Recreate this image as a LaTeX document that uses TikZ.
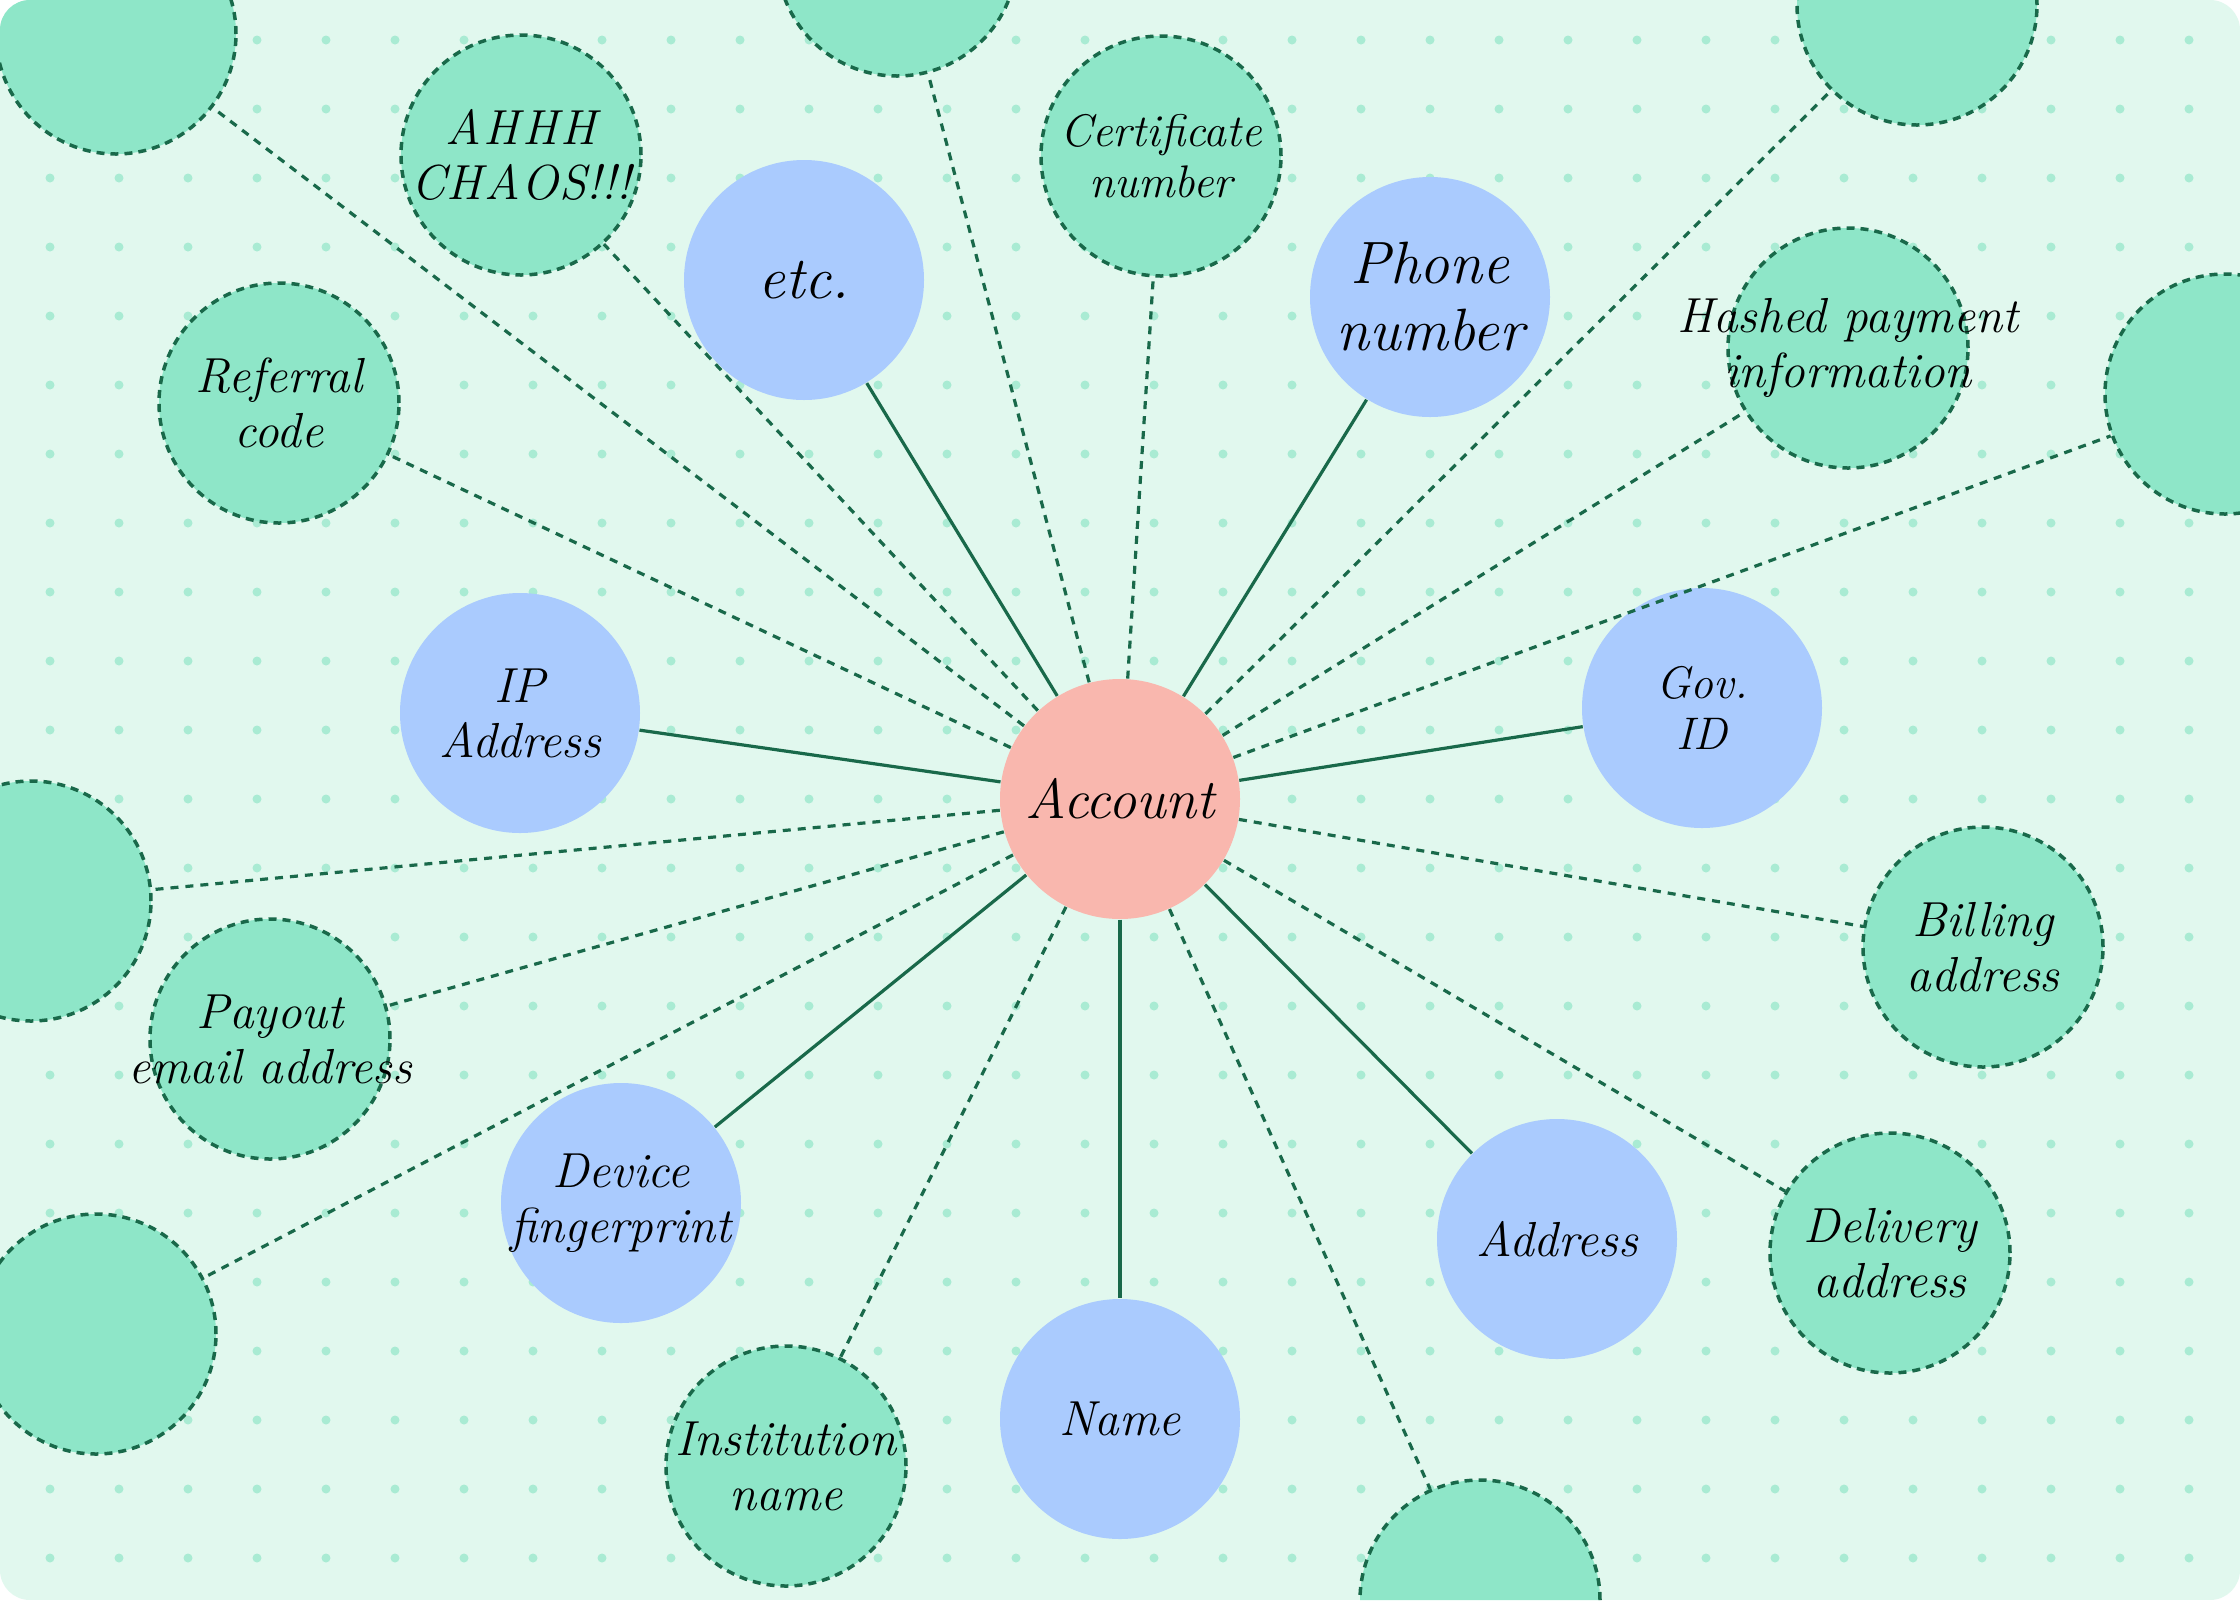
\documentclass[tikz,border=0pt]{standalone}
\usepackage{fontspec}
\definecolor{bgcol}{HTML}{E1F8EE}
\definecolor{dotcol}{HTML}{A9EBD3}
\definecolor{linecol}{HTML}{19694A}
\definecolor{attrcol}{HTML}{8EE6C8}
\definecolor{corecol}{HTML}{AACBFE}
\definecolor{acctcol}{HTML}{F9B7AE}
\tikzset{
  hand/.style={font={\itshape\pgfmathsetmacro\handskip{#1*1.12}\fontsize{#1}{\handskip}\selectfont}},
  every label/.style={align=center, text=black},
  account/.style={circle, fill=acctcol, minimum size=24mm, inner sep=0pt},
  core/.style={circle, fill=corecol, minimum size=24mm, inner sep=0pt},
  attr/.style={circle, fill=attrcol, draw=linecol, line width=0.35mm,
    dash pattern=on 0.8mm off 0.6mm, minimum size=24mm, inner sep=0pt},
  strong/.style={draw=linecol, line width=0.32mm},
  weak/.style={draw=linecol, line width=0.32mm, dash pattern=on 0.8mm off 0.7mm},
}
\begin{document}
\begin{tikzpicture}[x=0.1mm,y=-0.1mm]
\useasboundingbox (0,0) rectangle (2240,1600);
\fill[white] (0,0) rectangle (2240,1600);
\begin{scope}
\clip[rounded corners=3mm] (0,0) rectangle (2240,1600);
\fill[bgcol] (0,0) rectangle (2240,1600);
% dot grid
\foreach \i in {0,...,31}
  \foreach \j in {0,...,22}
    \fill[dotcol] (50+69*\i,40+69*\j) circle (0.45mm);
% centre
\node[account, label={[hand=16]center:Account}] (acc) at (1120,799) {};
% solid ones
\node[core, label={[hand=17]center:etc.}] (etc) at (804,280) {};
\node[core, label={[hand=17]center:Phone\\number}] (phone) at (1430,297) {};
\node[core, label={[hand=14]center:IP\\Address}] (ip) at (520,713) {};
\node[core, label={[hand=13]center:Gov.\\ID}] (gov) at (1702,708) {};
\node[core, label={[hand=14]center:Device\\fingerprint}] (dev) at (621,1203) {};
\node[core, label={[hand=14]center:Name}] (name) at (1120,1419) {};
\node[core, label={[hand=14]center:Address}] (addr) at (1557,1239) {};
% dashed ones
\node[attr, label={[hand=14]center:A\hspace{0.8pt}H\hspace{0.8pt}H\hspace{0.8pt}H\\C\hspace{0.4pt}H\hspace{0.4pt}A\hspace{0.4pt}O\hspace{0.4pt}S!!!}] (chaos) at (521,155) {};
\node[attr, label={[hand=13]center:Certificate\\number}] (cert) at (1161,156) {};
\node[attr, label={[hand=14]center:Referral\\code}] (ref) at (279,403) {};
\node[attr, label={[hand=14]center:Hashed payment\\information}] (hash) at (1848,348) {};
\node[attr, label={[hand=14]center:Billing\\address}] (bill) at (1983,947) {};
\node[attr, label={[hand=14]center:Payout\\email address}] (payout) at (270,1039) {};
\node[attr, label={[hand=14]center:Delivery\\address}] (deliv) at (1890,1253) {};
\node[attr, label={[hand=14]center:Institution\\name}] (inst) at (786,1466) {};
\node[attr] (tl) at (116,34) {};
\node[attr] (top) at (897,-44) {};
\node[attr] (tr) at (1917,5) {};
\node[attr] (right) at (2225,394) {};
\node[attr] (left) at (31,901) {};
\node[attr] (bl) at (96,1334) {};
\node[attr] (bot) at (1480,1600) {};
% links
\foreach \n in {etc,phone,ip,gov,dev,name,addr}
  \draw[strong] (acc) -- (\n);
\foreach \n in {chaos,cert,ref,hash,bill,payout,deliv,inst,tl,top,tr,right,left,bl,bot}
  \draw[weak] (acc) -- (\n);
\end{scope}
\end{tikzpicture}
\end{document}
